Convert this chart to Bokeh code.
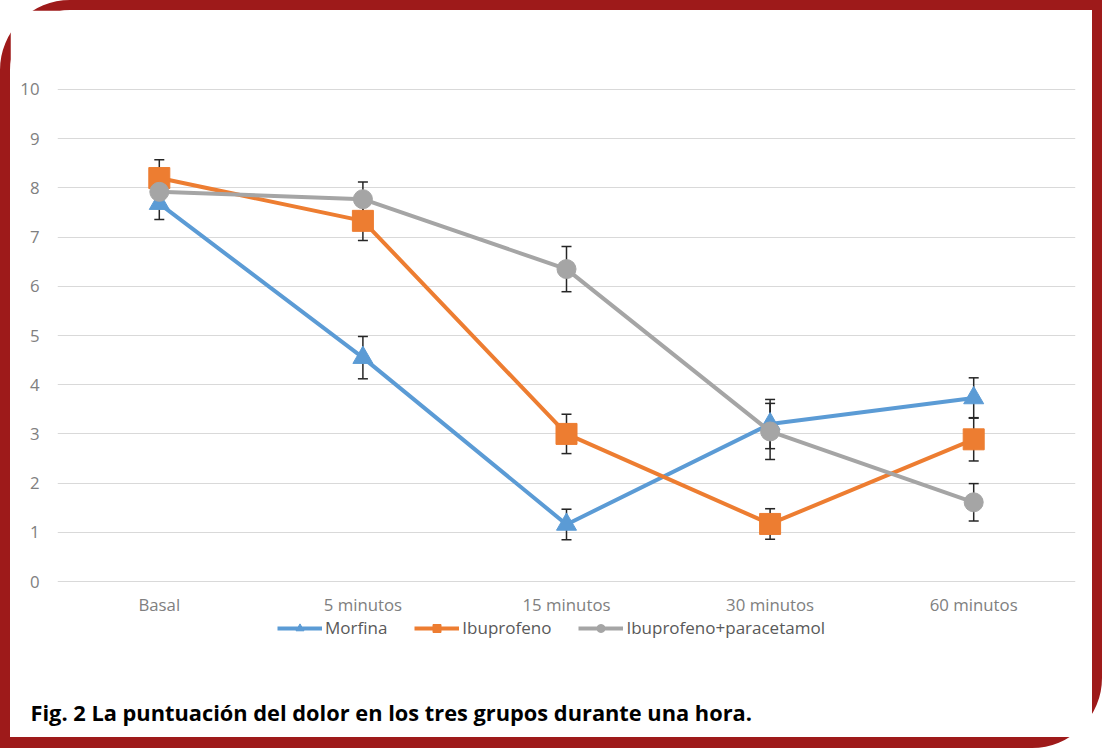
from bokeh.plotting import figure
from bokeh.models import FactorRange, Range1d, Legend, LegendItem, Title, FixedTicker
from bokeh.layouts import column
from bokeh.embed import file_html
from bokeh.resources import INLINE

categories = ["Basal", "5 minutos", "15 minutos", "30 minutos", "60 minutos"]
morfina = [7.68, 4.55, 1.16, 3.20, 3.73]
morfina_err = [0.32, 0.43, 0.31, 0.50, 0.41]
ibuprofeno = [8.20, 7.33, 3.00, 1.17, 2.89]
ibuprofeno_err = [0.37, 0.40, 0.40, 0.31, 0.44]
ibu_para = [7.92, 7.77, 6.35, 3.05, 1.61]
ibu_para_err = [0.30, 0.35, 0.46, 0.57, 0.38]
y_ticks = [0, 1, 2, 3, 4, 5, 6, 7, 8, 9, 10]
series_names = ["Morfina", "Ibuprofeno", "Ibuprofeno+paracetamol"]
caption = "Fig. 2 La puntuación del dolor en los tres grupos durante una hora."

colors = ["#5B9BD5", "#ED7D31", "#A5A5A5"]
markers = ["triangle", "square", "circle"]
msizes = [20, 21, 19]
FONT = "Open Sans"

# layout (pixels)
W, H = 1082, 727
TOP, LEFT, RIGHT = 78, 47, 17
SCALE_PX = 494          # pixels covering the 0..10 scale (+ small pad)
FRAME_BOTTOM = 680      # frame extends below 0 to hold tick labels and legend
pad = 0.02
ppu = SCALE_PX / (10 + 2 * pad)
y_hi = 10 + pad
y_lo = y_hi - (FRAME_BOTTOM - TOP) / ppu

p = figure(x_range=FactorRange(*categories), y_range=Range1d(y_lo, y_hi),
           width=W, height=H, output_backend="svg", toolbar_location=None,
           min_border_left=LEFT, min_border_right=RIGHT, min_border_top=TOP,
           min_border_bottom=H - FRAME_BOTTOM,
           background_fill_color="white", border_fill_color="white", outline_line_color=None)

p.xgrid.grid_line_color = None
p.ygrid.grid_line_color = "#D9D9D9"
p.ygrid.grid_line_width = 1
p.yaxis.ticker = FixedTicker(ticks=y_ticks)
p.xaxis.fixed_location = 0
for ax in (p.xaxis, p.yaxis):
    ax.axis_line_color = None
    ax.major_tick_line_color = None
    ax.minor_tick_line_color = None
    ax.major_tick_out = 0
    ax.major_tick_in = 0
    ax.major_label_text_font = FONT
    ax.major_label_text_font_size = "16.8px"
    ax.major_label_text_color = "#808080"
p.xaxis.major_label_standoff = 11
p.yaxis.major_label_standoff = 18

all_vals = [morfina, ibuprofeno, ibu_para]
all_errs = [morfina_err, ibuprofeno_err, ibu_para_err]

# error bars behind the series
for vals, errs in zip(all_vals, all_errs):
    lo = [v - e for v, e in zip(vals, errs)]
    hi = [v + e for v, e in zip(vals, errs)]
    p.segment(x0=categories, y0=lo, x1=categories, y1=hi, line_color="#262626", line_width=1.5)
    p.scatter(x=categories, y=lo, marker="dash", size=10, line_color="#262626", line_width=1.5)
    p.scatter(x=categories, y=hi, marker="dash", size=10, line_color="#262626", line_width=1.5)

items = []
for name, vals, c, m, s in zip(series_names, all_vals, colors, markers, msizes):
    ln = p.line(x=categories, y=vals, line_color=c, line_width=4)
    sc = p.scatter(x=categories, y=vals, marker=m, size=s, fill_color=c, line_color=c)
    items.append(LegendItem(label=name, renderers=[ln, sc]))

legend = Legend(items=items, orientation="horizontal", location=(220, 51),
                label_text_font=FONT, label_text_font_size="17px", label_text_color="#595959",
                glyph_width=45, glyph_height=20, label_standoff=3, spacing=27,
                border_line_color=None, background_fill_alpha=0, margin=0, padding=3)
p.add_layout(legend)

cap = Title(text=caption, align="left", offset=-27,
            text_font=FONT, text_font_style="bold", text_font_size="21.8px",
            text_color="black")
p.add_layout(cap, "below")

layout = column(p, styles={"border": "10px solid #9E1A1A", "border-bottom-width": "11px",
                           "border-radius": "70px 0 70px 0"})

open("out.html", "w").write(file_html(layout, INLINE))
